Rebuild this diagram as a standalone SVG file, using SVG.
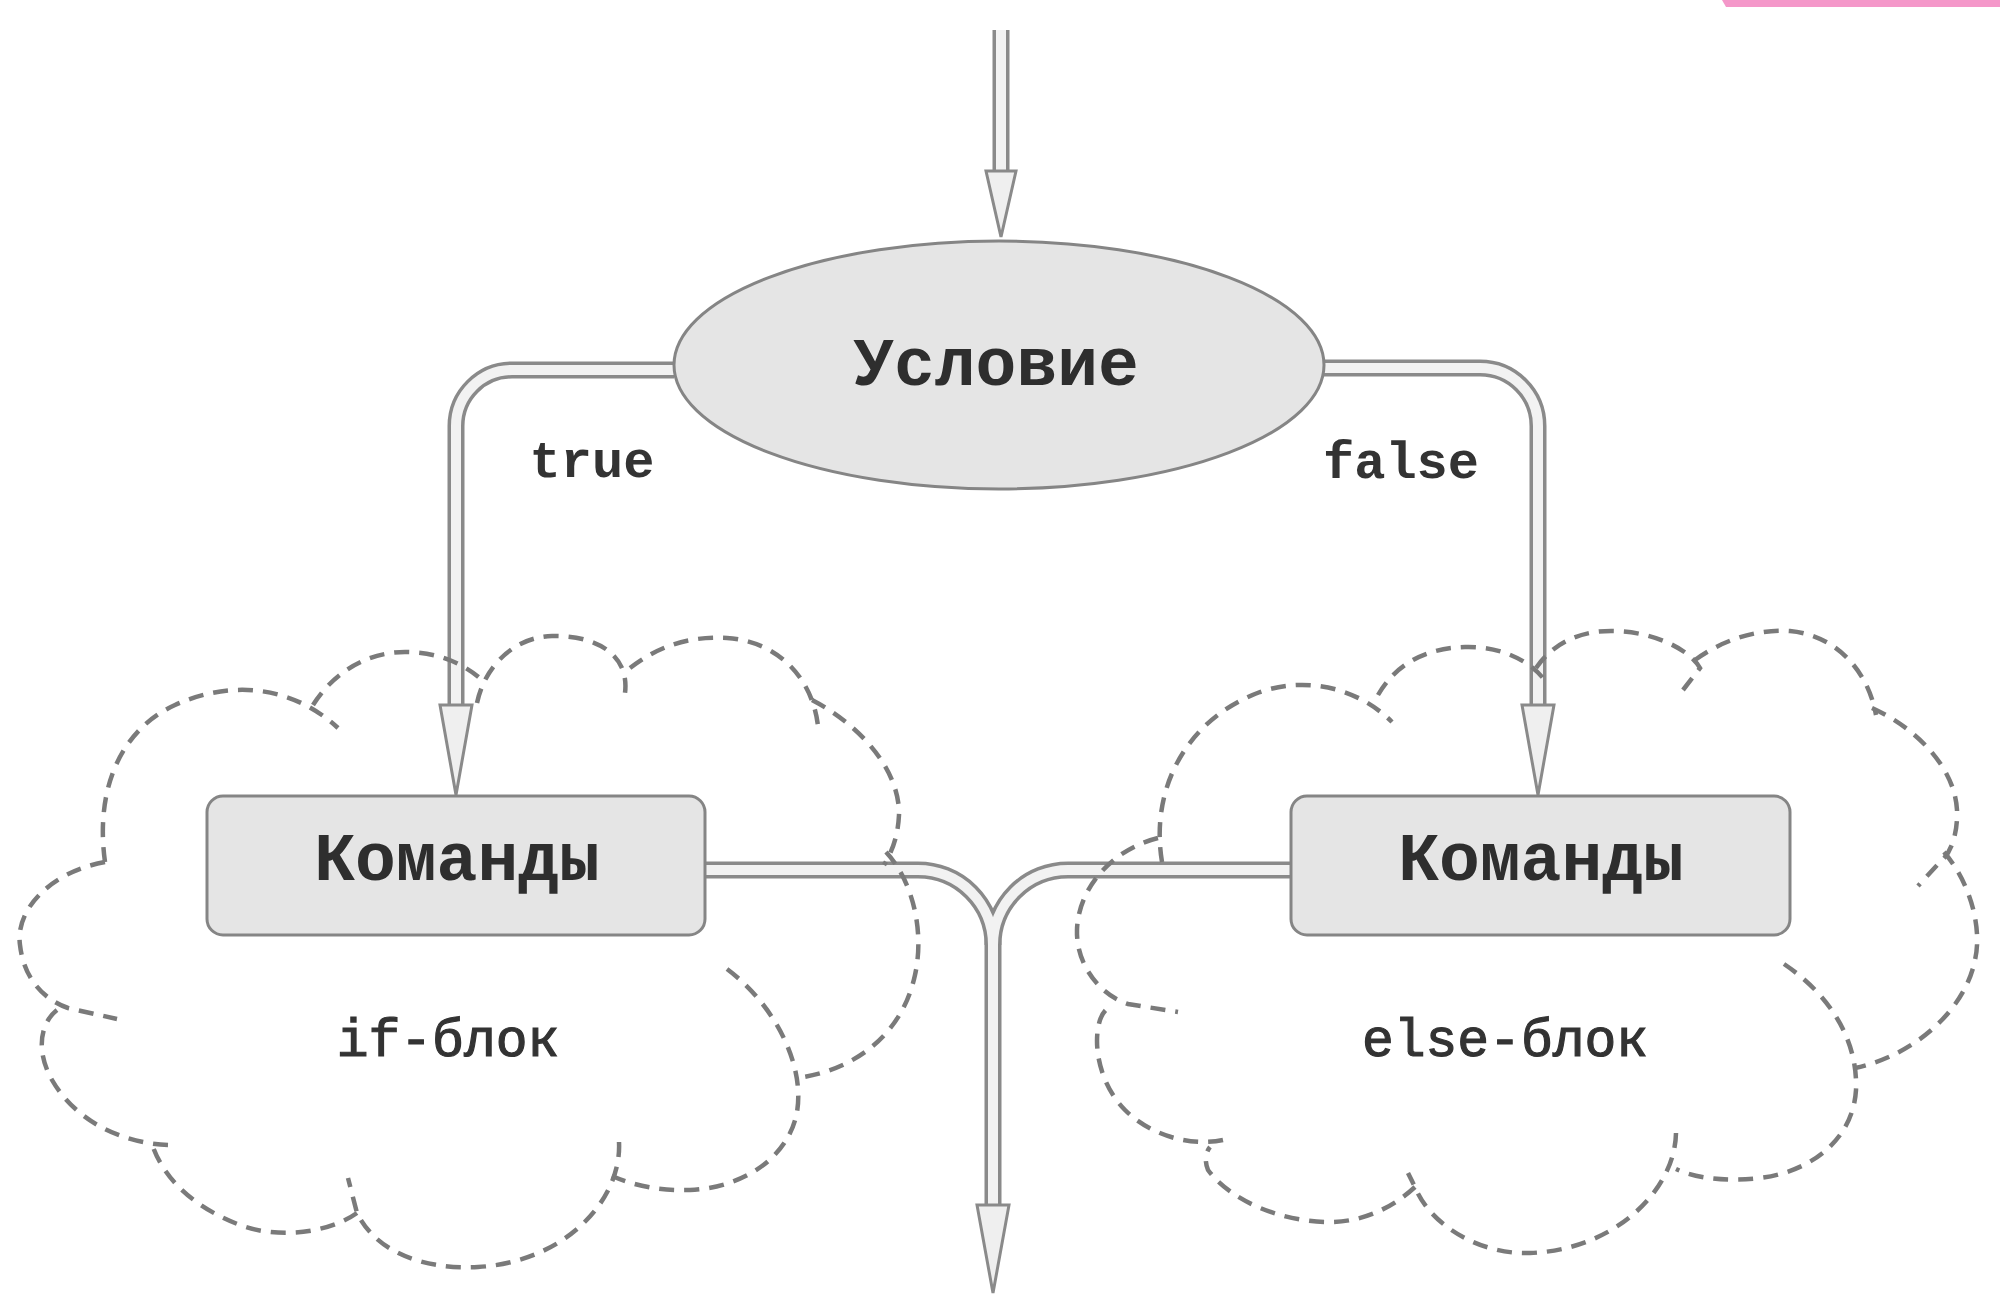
<svg xmlns="http://www.w3.org/2000/svg" width="2000" height="1296" viewBox="0 0 2000 1296">
<defs>
<style>
.pipe-o{fill:none;stroke:#8a8a8a;stroke-width:17}
.pipe-i{fill:none;stroke:#f2f2f2;stroke-width:10}
.head{fill:#efefef;stroke:#8a8a8a;stroke-width:3;stroke-linejoin:miter}
.cloud{fill:none;stroke:#7a7a7a;stroke-width:4.5;stroke-dasharray:15 10;stroke-linecap:butt}
.node{fill:#e5e5e5;stroke:#858585;stroke-width:3}
.big{font-family:"Liberation Mono","DejaVu Sans Mono",monospace;font-weight:bold;font-size:68px;fill:#2e2e2e;text-anchor:middle}
.lbl{font-family:"Liberation Mono","DejaVu Sans Mono",monospace;font-weight:bold;font-size:52px;fill:#333;text-anchor:middle}
.blk{font-family:"Liberation Mono","DejaVu Sans Mono",monospace;font-size:53px;fill:#333;stroke:#333;stroke-width:1.2;text-anchor:middle}
</style>
</defs>
<rect width="2000" height="1296" fill="#ffffff"/>
<path d="M1722,0 H2000 V7 H1726 Z" fill="#f497c9"/>

<g id="connectors">
<path class="pipe-o" d="M1001,30 V172"/>
<path class="pipe-o" d="M674,370 H512 A56,56 0 0 0 456,426 V706"/>
<path class="pipe-o" d="M1324,368 H1480 A58,58 0 0 1 1538,426 V706"/>
<path class="pipe-o" d="M705,870 H918 A75,75 0 0 1 993,945 V1206"/>
<path class="pipe-o" d="M1291,870 H1068 A75,75 0 0 0 993,945"/>
<path class="pipe-i" d="M1001,30 V174"/>
<path class="pipe-i" d="M674,370 H512 A56,56 0 0 0 456,426 V708"/>
<path class="pipe-i" d="M1324,368 H1480 A58,58 0 0 1 1538,426 V708"/>
<path class="pipe-i" d="M705,870 H918 A75,75 0 0 1 993,945 V1208"/>
<path class="pipe-i" d="M1291,870 H1068 A75,75 0 0 0 993,945"/>
<polygon class="head" points="986,171 1016,171 1001,237"/>
<polygon class="head" points="440,705 472,705 456,795"/>
<polygon class="head" points="1522,705 1554,705 1538,795"/>
<polygon class="head" points="977,1205 1009,1205 993,1293"/>
</g>

<g id="if-block">
<path class="cloud" d="M105,862 C50,872 15,910 20,945 C24,980 45,1000 68,1008 L117,1019"/>
<path class="cloud" d="M105,862 C95,790 120,730 175,705 C235,678 295,688 338,728"/>
<path class="cloud" d="M313,705 C335,670 370,652 405,652 C435,652 462,662 482,680"/>
<path class="cloud" d="M477,703 C485,665 515,637 552,636 C592,635 630,652 625,693"/>
<path class="cloud" d="M630,668 C660,645 690,636 727,638 C775,641 812,675 818,726"/>
<path class="cloud" d="M812,700 C860,725 900,770 899,815 C898,835 893,850 884,865"/>
<path class="cloud" d="M886,852 C912,880 925,930 915,975 C902,1035 855,1070 797,1078"/>
<path class="cloud" d="M727,969 C775,1005 805,1065 797,1112 C788,1160 740,1188 690,1190 C660,1191 635,1186 612,1176"/>
<path class="cloud" d="M619,1142 C622,1200 565,1262 478,1267 C420,1270 375,1250 357,1213 L348,1178"/>
<path class="cloud" d="M357,1213 C330,1232 280,1240 240,1225 C195,1208 165,1180 153,1147"/>
<path class="cloud" d="M168,1145 C120,1143 75,1120 52,1080 C35,1050 40,1020 61,1007"/>
<text class="blk" x="448" y="1056">if-блок</text>
</g>

<g id="else-block">
<path class="cloud" d="M1162,862 C1150,790 1185,720 1260,692 C1310,675 1360,690 1392,722"/>
<path class="cloud" d="M1158,838 C1110,850 1078,890 1077,930 C1076,965 1100,995 1128,1004 L1178,1012"/>
<path class="cloud" d="M1378,695 C1395,665 1425,648 1465,647 C1500,646 1528,660 1543,678"/>
<path class="cloud" d="M1536,668 C1555,640 1585,630 1615,631 C1655,632 1690,650 1700,668 L1683,690"/>
<path class="cloud" d="M1695,660 C1725,638 1760,629 1790,631 C1835,635 1868,670 1876,715"/>
<path class="cloud" d="M1872,708 C1920,730 1955,770 1957,810 C1958,835 1950,855 1940,862 L1918,886"/>
<path class="cloud" d="M1944,852 C1972,885 1982,930 1975,960 C1965,1010 1915,1055 1855,1068"/>
<path class="cloud" d="M1784,964 C1830,995 1858,1040 1856,1090 C1853,1140 1810,1172 1760,1178 C1725,1182 1695,1178 1676,1169"/>
<path class="cloud" d="M1676,1133 C1675,1190 1615,1250 1530,1253 C1480,1255 1430,1225 1415,1187 L1408,1173"/>
<path class="cloud" d="M1415,1187 C1390,1210 1360,1222 1330,1222 C1280,1222 1230,1200 1208,1170 C1204,1160 1206,1152 1210,1147"/>
<path class="cloud" d="M1223,1140 C1190,1147 1150,1135 1125,1110 C1100,1085 1092,1045 1100,1020 C1103,1012 1106,1009 1110,1007"/>
<text class="blk" x="1505" y="1056">else-блок</text>
</g>

<g id="condition">
<ellipse class="node" cx="999" cy="365" rx="325" ry="124"/>
<text class="big" x="996" y="385">Условие</text>
</g>

<g id="commands-if">
<rect class="node" x="207" y="796" width="498" height="139" rx="16"/>
<text class="big" x="457" y="880">Команды</text>
</g>

<g id="commands-else">
<rect class="node" x="1291" y="796" width="499" height="139" rx="16"/>
<text class="big" x="1541" y="880">Команды</text>
</g>

<g id="labels">
<text class="lbl" x="592" y="477">true</text>
<text class="lbl" x="1401" y="478">false</text>
</g>
</svg>
